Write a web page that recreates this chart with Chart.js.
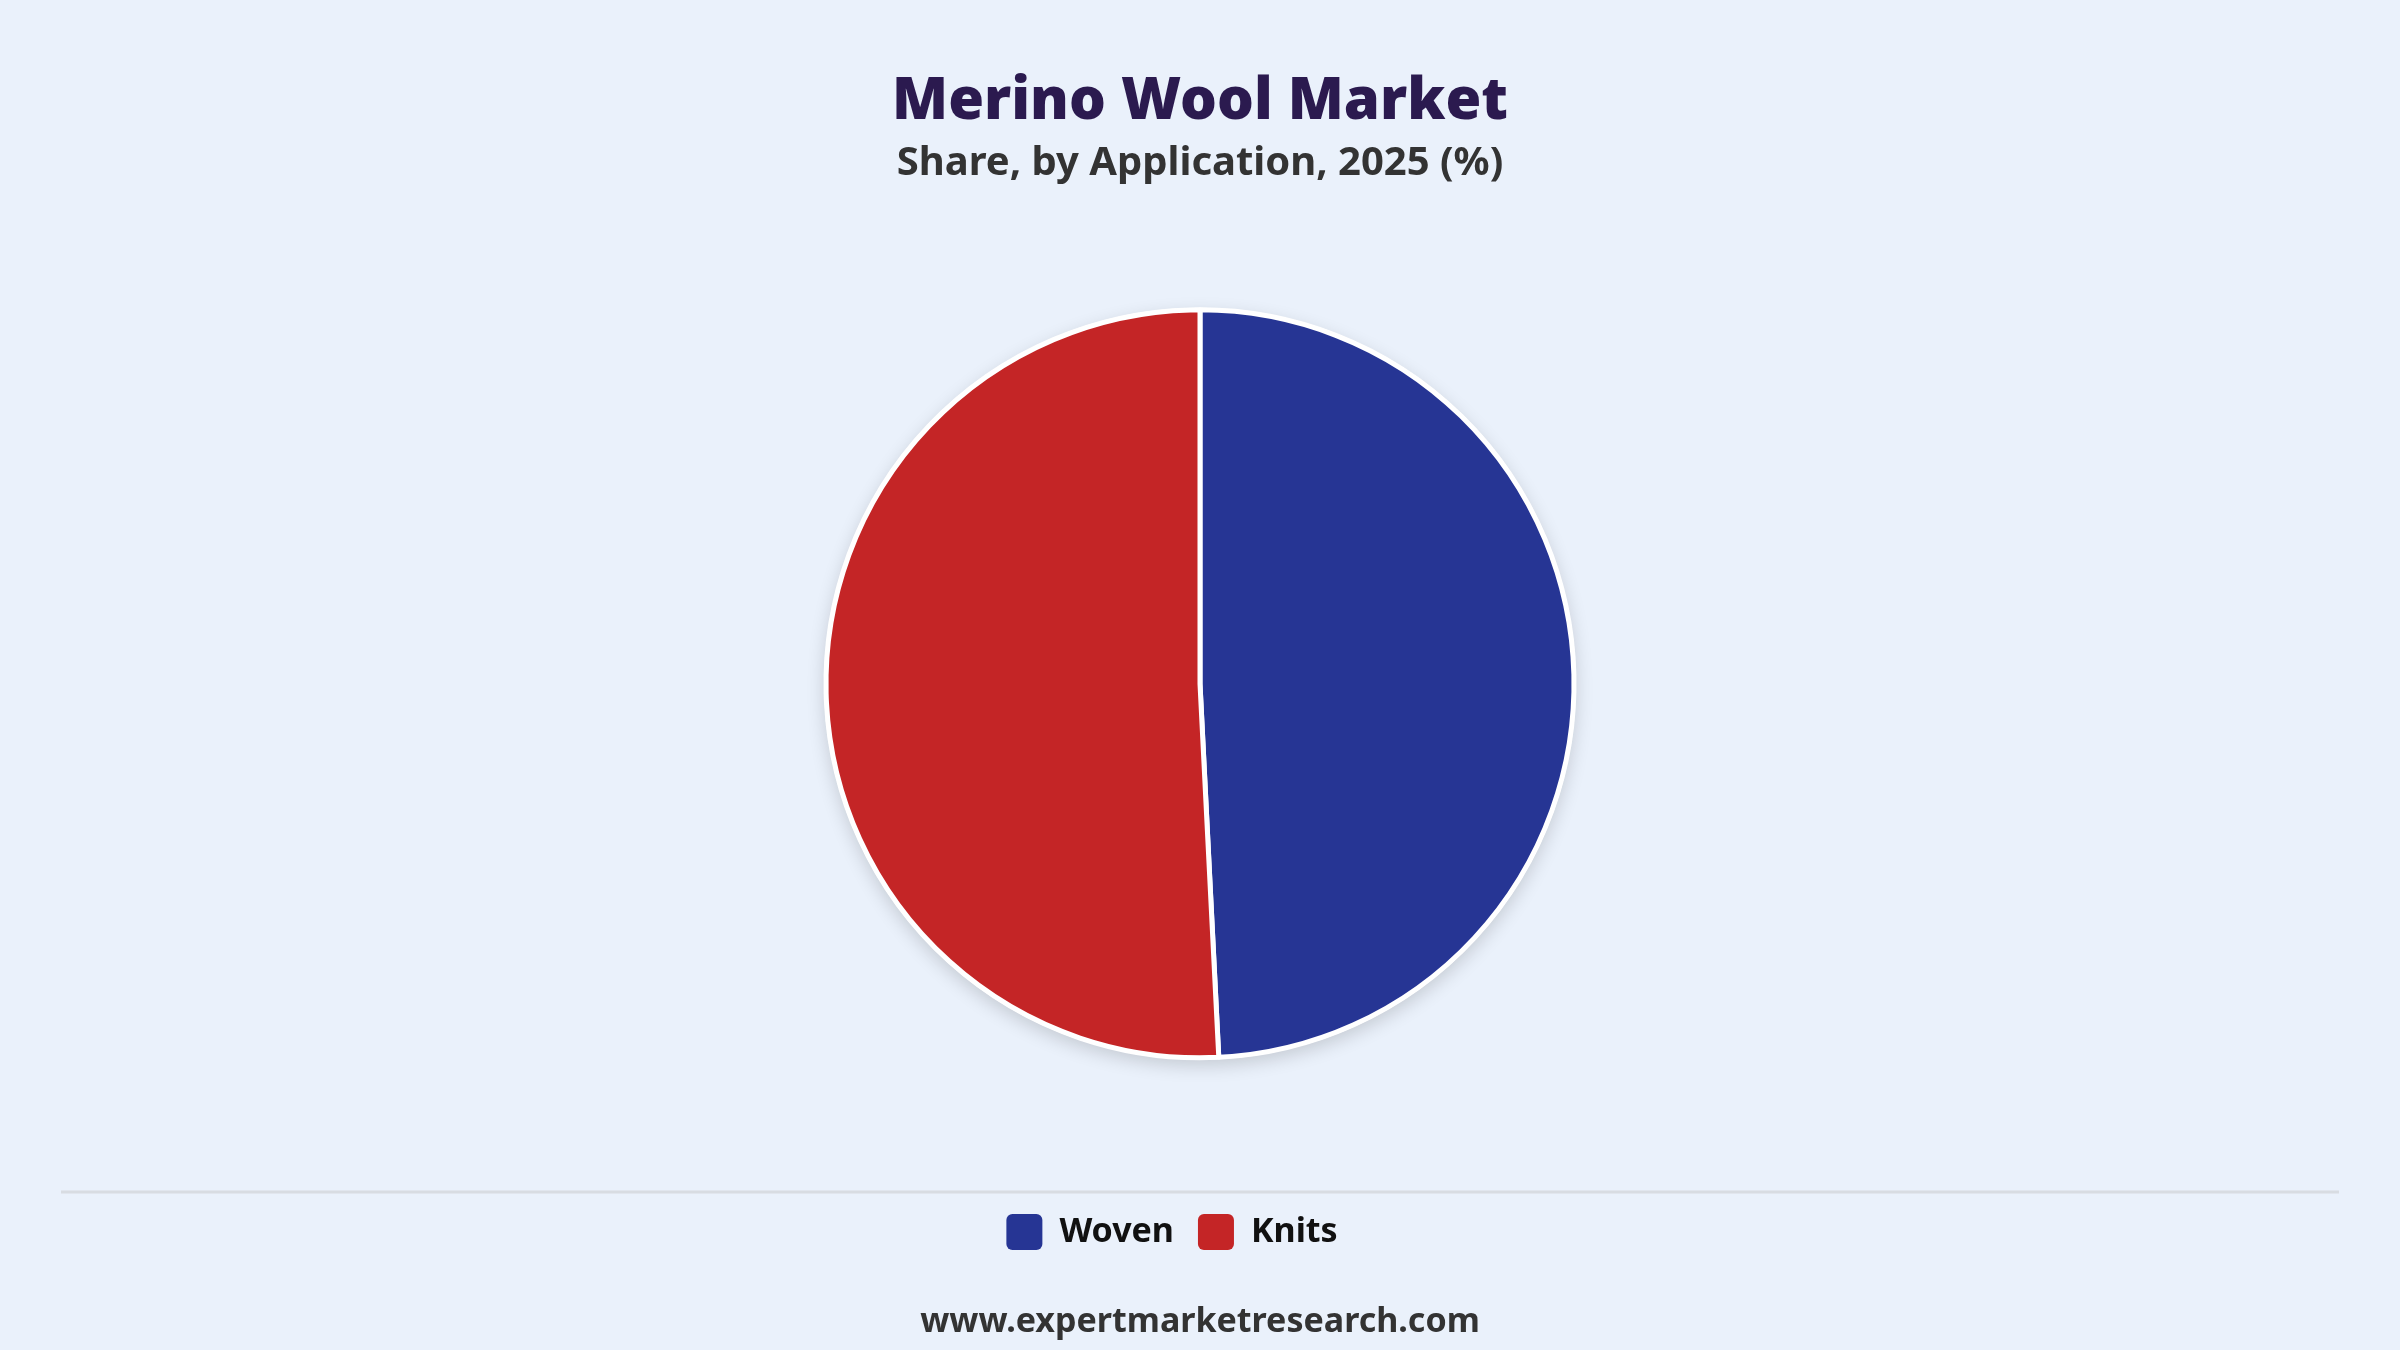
<!DOCTYPE html>
<html>
<head>
<meta charset="utf-8">
<title>Merino Wool Market</title>
<script src="https://cdn.jsdelivr.net/npm/chart.js@4.4.1/dist/chart.umd.min.js"></script>
<style>
  html, body { margin: 0; padding: 0; background: #eaf1fb; }
  #wrap { position: relative; width: 2400px; height: 1350px; }
</style>
</head>
<body>
<div id="wrap"><canvas id="shareChart"></canvas></div>
<script>
// chart data
var categories = ['Woven', 'Knits'];
var shares = [49.2, 50.8];
var sliceColors = ['#263594', '#c42526'];

var titleText = 'Merino Wool Market';
var subtitleText = 'Share, by Application, 2025 (%)';
var footerText = 'www.expertmarketresearch.com';

var baseFont = "'Noto Sans', 'Open Sans', sans-serif";

// soft drop shadow behind the pie, plus divider line and site footer
var decorPlugin = {
    id: 'decor',
    afterLayout: function (chart) {
        // legend sits a little left of centre and just under the rule
        var lg = chart.legend;
        lg.left -= 28;
        lg.right -= 28;
        lg.top += 10;
        lg.bottom += 10;
    },
    beforeDatasetsDraw: function (chart) {
        var arc = chart.getDatasetMeta(0).data[0];
        if (!arc) return;
        var ctx = chart.ctx;
        ctx.save();
        ctx.beginPath();
        ctx.arc(arc.x, arc.y, arc.outerRadius + 2, 0, Math.PI * 2);
        ctx.fillStyle = '#ffffff';
        ctx.shadowColor = 'rgba(0, 0, 0, 0.16)';
        ctx.shadowBlur = 18;
        ctx.shadowOffsetY = 6;
        ctx.fill();
        ctx.restore();
    },
    afterDraw: function (chart) {
        var ctx = chart.ctx;
        var legend = chart.legend;
        ctx.save();
        ctx.strokeStyle = '#d8dce2';
        ctx.lineWidth = 3;
        ctx.beginPath();
        ctx.moveTo(61, legend.top + 2);
        ctx.lineTo(chart.width - 61, legend.top + 2);
        ctx.stroke();

        ctx.fillStyle = '#333333';
        ctx.font = "bold 34px " + baseFont;
        ctx.textAlign = 'center';
        ctx.textBaseline = 'middle';
        ctx.fillText(footerText, chart.width / 2, chart.height - 28);
        ctx.restore();
    }
};

var ctx = document.getElementById('shareChart').getContext('2d');

var myChart = new Chart(ctx, {
    type: 'pie',
    data: {
        labels: categories,
        datasets: [{
            data: shares,
            backgroundColor: sliceColors,
            borderColor: '#ffffff',
            borderWidth: 5,
            hoverOffset: 0,
            radius: 374
        }]
    },
    plugins: [decorPlugin],
    options: {
        responsive: true,
        maintainAspectRatio: false,
        animation: false,
        layout: {
            padding: { top: 0, bottom: 100, left: 0, right: 0 }
        },
        plugins: {
            title: {
                display: true,
                text: titleText,
                color: '#2b1a4f',
                font: { family: baseFont, size: 58, weight: 900 },
                padding: { top: 68, bottom: 2 }
            },
            subtitle: {
                display: true,
                text: subtitleText,
                color: '#333333',
                font: { family: baseFont, size: 40, weight: 'bold' },
                padding: { top: 0, bottom: 0 }
            },
            legend: {
                display: true,
                position: 'bottom',
                labels: {
                    boxWidth: 36,
                    boxHeight: 36,
                    padding: 24,
                    color: '#111111',
                    useBorderRadius: true,
                    borderRadius: 6,
                    font: { family: baseFont, size: 34, weight: 'bold' },
                    generateLabels: function (chart) {
                        var items = Chart.overrides.pie.plugins.legend.labels.generateLabels(chart);
                        items.forEach(function (it) {
                            it.lineWidth = 0;
                            it.strokeStyle = 'rgba(0,0,0,0)';
                        });
                        return items;
                    }
                }
            },
            tooltip: { enabled: false }
        }
    }
});
</script>
</body>
</html>
